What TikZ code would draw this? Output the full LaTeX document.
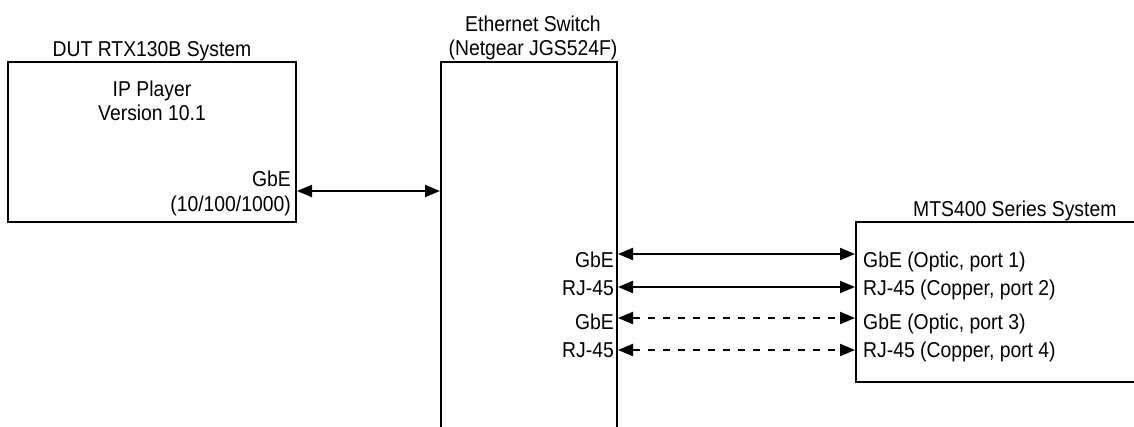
\documentclass[tikz,border=0pt]{standalone}
\usepackage{fontspec}
\setmainfont{Liberation Sans}[FakeStretch=0.9]
\usetikzlibrary{arrows.meta,positioning,calc}

\begin{document}
\begin{tikzpicture}[x=1pt, y=-1pt,
			sys/.style   = {draw, rectangle, line width=2pt, inner sep=0pt},
			lbl/.style   = {font=\fontsize{21.5}{24}\selectfont, inner sep=0pt},
			link/.style  = {{Triangle[length=15pt,width=12pt]}-{Triangle[length=15pt,width=12pt]}, line width=2pt},
			dlink/.style = {link, dash pattern=on 7pt off 8pt}]
			
			\useasboundingbox (0,0) rectangle (1134,427);
			\clip (0,0) rectangle (1134,427);
			
			\node[sys, minimum width=288pt, minimum height=160pt] (dut) at (152,142) {};
			\node[sys, minimum width=176pt, minimum height=408pt] (sw) at (529,266) {};
			\node[sys, minimum width=324pt, minimum height=160pt] (mts) at (1018,302) {};
			
			\node[lbl, above=0pt of dut] (duttitle) {DUT RTX130B System};
			\node[lbl, above=1pt of sw, align=center, xshift=4pt] (swtitle) {Ethernet Switch\\(Netgear JGS524F)};
			\node[lbl, above right=0pt and 58pt of mts.north west] (mtstitle) {MTS400 Series System};
			
			\node[lbl, align=center, below=20pt of dut.north] (player) {IP Player\\Version 10.1};
			\node[lbl, font=\fontsize{21.5}{25}\selectfont, align=right, anchor=south east, inner xsep=6pt, inner ysep=6.5pt] (dutport) at (dut.south east) {GbE\\(10/100/1000)};
			
			\coordinate (dutgbe) at ($(dut.south east)+(0,-32)$);
			\draw[link] (dutgbe) -- (dutgbe -| sw.west);
			
			\foreach \i/\y in {1/254, 2/287, 3/318, 4/350} {
				\coordinate (swp\i) at (sw.east |- 0,\y);
				\coordinate (mtsp\i) at (mts.west |- 0,\y);
			}
			
			\foreach \i/\o/\l/\r in {1/14/GbE/{GbE (Optic, port 1)}, 2/9/RJ-45/{RJ-45 (Copper, port 2)}, 3/12/GbE/{GbE (Optic, port 3)}, 4/7/RJ-45/{RJ-45 (Copper, port 4)}} {
				\node[lbl, anchor=base east] (swl\i) at ($(swp\i)+(-4,\o)$) {\l};
				\node[lbl, anchor=base west] (mtsl\i) at ($(mtsp\i)+(8,\o)$) {\r};
			}
			
			\foreach \i in {1,2}
			\draw[link] (swp\i) -- (mtsp\i);
			
			\foreach \i in {3,4}
			\draw[dlink] (swp\i) -- (mtsp\i);
		\end{tikzpicture}
\end{document}
